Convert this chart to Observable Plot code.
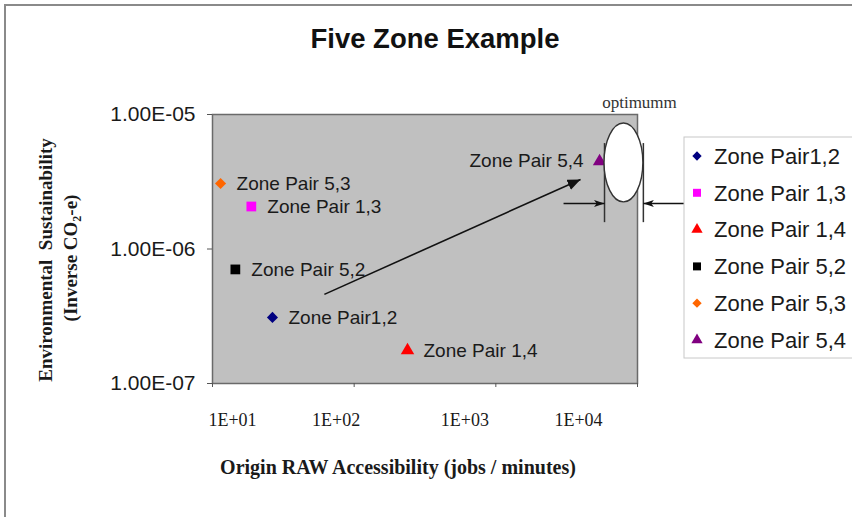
<!DOCTYPE html>
<html><head><meta charset="utf-8">
<script src="https://cdn.jsdelivr.net/npm/d3@7"></script>
<script src="https://cdn.jsdelivr.net/npm/@observablehq/plot@0.6"></script>
<style>body{margin:0;background:#fff;} #chart{position:relative;width:852px;height:517px;overflow:hidden;}</style>
</head><body><div id="chart"></div>
<script>
// ---- data ----
const series = ["Zone Pair1,2", "Zone Pair 1,3", "Zone Pair 1,4", "Zone Pair 5,2", "Zone Pair 5,3", "Zone Pair 5,4"];
const accessibility = [26.5, 18.8, 238, 14.5, 11.4, 5400];          // jobs / minutes
const sustainability = [3.1e-7, 2.07e-6, 1.76e-7, 7.05e-7, 3.07e-6, 4.48e-6]; // inverse CO2-e
const colors = ["#000080", "#ff00ff", "#ff0000", "#000000", "#ff6600", "#800080"];
const symbols = ["diamond2", "square", "triangle", "square", "diamond2", "triangle"];
const labelSide = ["right", "right", "right", "right", "right", "left"];

const xTicks = [10, 100, 1000, 10000];
const xTickLabels = ["1E+01", "1E+02", "1E+03", "1E+04"];
const yTicks = [1e-7, 1e-6, 1e-5];
const yTickLabels = ["1.00E-07", "1.00E-06", "1.00E-05"];

// trend arrow (from, to)
const trendX = [61.6, 3963];
const trendY = [4.6e-7, 3.29e-6];
// optimum zone (extent) and its brackets
const optimumX = [5850, 11000];
const optimumY = [2.22e-6, 8.57e-6];
const bracketY = [1.57e-6, 6.08e-6];
const pointerY = 2.18e-6;
const pointerFromX = [3006, 21800];
const optimumLabel = "optimumm";
const optimumLabelAt = [10330, 1.11e-5];

const title = "Five Zone Example";
const xTitle = "Origin RAW Accessibility (jobs / minutes)";
const yTitle1 = "Environmental  Sustainability";

// ---- presentation ----
const xLabelShift = [20, -18, -31, -59];
const W = 852, H = 517;
const rOf = s => s === "square" ? 5.5 : 5;

const pts = series.map((s, i) => ({name: s, x: accessibility[i], y: sustainability[i], color: colors[i], symbol: symbols[i], side: labelSide[i]}));

const dotMarks = pts.map(p => Plot.dot([p], {x: "x", y: "y", symbol: p.symbol, fill: p.color, stroke: "none", r: rOf(p.symbol)}));

const plot = Plot.plot({
  width: W, height: H,
  marginLeft: 212, marginRight: 215, marginTop: 114, marginBottom: 134,
  x: {type: "log", domain: [10, 10000]},
  y: {type: "log", domain: [1e-7, 1e-5]},
  style: {fontFamily: "'Liberation Sans', Arial, sans-serif", fontSize: "21px", color: "#1a1a1a", background: "#fff", overflow: "visible"},
  marks: [
    Plot.frame({fill: "#c0c0c0", stroke: "#6a6a6a", strokeWidth: 1.5}),
    Plot.axisY({ticks: yTicks, tickFormat: d => yTickLabels[yTicks.indexOf(d)], tickSize: 5, tickPadding: 12, fontSize: 21, label: null, stroke: "#555"}),
    Plot.axisX({ticks: xTicks, tickFormat: () => "", tickSize: 4, label: null, stroke: "#555"}),
    ...xTicks.map((t, i) => Plot.axisX({ticks: [t], tickFormat: () => xTickLabels[i], tickSize: 0, tickPadding: 30, dx: xLabelShift[i], fontFamily: "'Liberation Serif', 'Times New Roman', serif", fontSize: 18, label: null})),
    Plot.link([0], {x1: () => trendX[0], y1: () => trendY[0], x2: () => trendX[1], y2: () => trendY[1], stroke: "#111", strokeWidth: 1.6, className: "trend"}),
    ...dotMarks,
    Plot.text(pts.filter(p => p.side === "right"), {x: "x", y: "y", text: "name", textAnchor: "start", dx: 16, fontSize: 19, fill: "#1a1a1a"}),
    Plot.text(pts.filter(p => p.side === "left"), {x: "x", y: "y", text: "name", textAnchor: "end", dx: -16, fontSize: 19, fill: "#1a1a1a"}),
    Plot.ruleX(optimumX, {x: d => d, y1: bracketY[0], y2: bracketY[1], stroke: "#333", strokeWidth: 1.5}),
    Plot.link([0], {x1: () => pointerFromX[0], x2: () => optimumX[0], y1: () => pointerY, y2: () => pointerY, stroke: "#111", strokeWidth: 1.3, className: "ptr"}),
    Plot.link([0], {x1: () => pointerFromX[1], x2: () => optimumX[1], y1: () => pointerY, y2: () => pointerY, stroke: "#111", strokeWidth: 1.3, className: "ptr"}),
    Plot.text([optimumLabel], {x: () => optimumLabelAt[0], y: () => optimumLabelAt[1], text: d => d, fontFamily: "'Liberation Serif', 'Times New Roman', serif", fontSize: 17, fill: "#333", lineAnchor: "bottom"})
  ]
});

document.getElementById("chart").append(plot);

const svg = d3.select(plot);
const xs = plot.scale("x"), ys = plot.scale("y");
const defs = svg.insert("defs", ":first-child");
defs.append("marker").attr("id", "ahBig").attr("viewBox", "0 0 12 10").attr("refX", 12).attr("refY", 5)
  .attr("markerWidth", 13).attr("markerHeight", 11).attr("markerUnits", "userSpaceOnUse").attr("orient", "auto")
  .append("path").attr("d", "M0,0 L12,5 L0,10 Z").attr("fill", "#111");
defs.append("marker").attr("id", "ahSmall").attr("viewBox", "0 0 12 8").attr("refX", 12).attr("refY", 4)
  .attr("markerWidth", 11).attr("markerHeight", 7).attr("markerUnits", "userSpaceOnUse").attr("orient", "auto")
  .append("path").attr("d", "M0,0 L12,4 L0,8 L3,4 Z").attr("fill", "#111");
svg.selectAll(".trend path, .trend line").attr("marker-end", "url(#ahBig)");
svg.selectAll(".ptr path, .ptr line").attr("marker-end", "url(#ahSmall)");

// optimum ellipse (drawn over the Zone Pair 5,4 point)
const ex0 = xs.apply(optimumX[0]), ex1 = xs.apply(optimumX[1]);
const ey0 = ys.apply(optimumY[1]), ey1 = ys.apply(optimumY[0]);
svg.append("ellipse").attr("cx", (ex0 + ex1) / 2).attr("cy", (ey0 + ey1) / 2)
  .attr("rx", (ex1 - ex0) / 2).attr("ry", (ey1 - ey0) / 2)
  .attr("fill", "#fff").attr("stroke", "#333").attr("stroke-width", 1.4);

// outer chart border
svg.append("path").attr("d", `M5,${H} V5 H${W}`).attr("fill", "none").attr("stroke", "#8a8a8a").attr("stroke-width", 2);

// title
svg.append("text").attr("x", 435).attr("y", 48).attr("text-anchor", "middle")
  .attr("font-family", "'Liberation Sans', Arial, sans-serif").attr("font-weight", "bold").attr("font-size", 27.5).attr("fill", "#111").text(title);

// x axis title
svg.append("text").attr("x", 398).attr("y", 474).attr("text-anchor", "middle")
  .attr("font-family", "'Liberation Serif', 'Times New Roman', serif").attr("font-weight", "bold").attr("font-size", 20).attr("fill", "#1a1a1a").text(xTitle);

// y axis title (two lines)
svg.append("text").attr("transform", "translate(52,260) rotate(-90)").attr("text-anchor", "middle")
  .attr("font-family", "'Liberation Serif', 'Times New Roman', serif").attr("font-weight", "bold").attr("font-size", 19).attr("fill", "#1a1a1a")
  .attr("xml:space", "preserve").style("white-space", "pre").text(yTitle1);
const yt2 = svg.append("text").attr("transform", "translate(77,258) rotate(-90)").attr("text-anchor", "middle")
  .attr("font-family", "'Liberation Serif', 'Times New Roman', serif").attr("font-weight", "bold").attr("font-size", 19).attr("fill", "#1a1a1a");
yt2.append("tspan").text("(Inverse CO");
yt2.append("tspan").attr("font-size", 12).attr("dy", 4).text("2");
yt2.append("tspan").attr("dy", -4).text("-e)");

// legend
const lg = svg.append("g").attr("text-anchor", "start");
lg.append("rect").attr("x", 684).attr("y", 137).attr("width", 200).attr("height", 221)
  .attr("fill", "#fff").attr("stroke", "#c8c8c8").attr("stroke-width", 1);
const symMap = {diamond2: d3.symbolDiamond2, square: d3.symbolSquare, triangle: d3.symbolTriangle};
pts.forEach((p, i) => {
  const cy = 156 + i * 36.8;
  const r = p.symbol === "square" ? 4.5 : 4.2;
  lg.append("path").attr("transform", `translate(697,${cy})`)
    .attr("d", d3.symbol(symMap[p.symbol], Math.PI * r * r)()).attr("fill", p.color);
  lg.append("text").attr("x", 714).attr("y", cy).attr("dy", "0.35em").attr("text-anchor", "start")
    .attr("font-family", "'Liberation Sans', Arial, sans-serif").attr("font-size", 22).attr("fill", "#1a1a1a").text(p.name);
});
</script>
</body></html>
